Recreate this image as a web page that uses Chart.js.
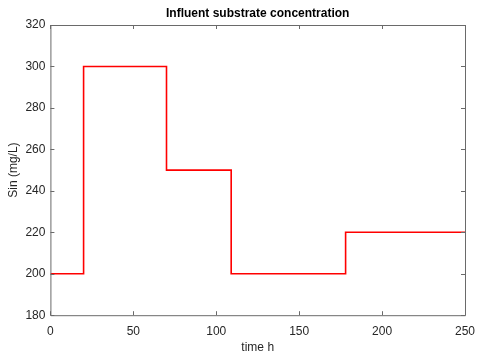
<!DOCTYPE html>
<html>
<head>
<meta charset="utf-8">
<script src="https://cdn.jsdelivr.net/npm/chart.js@4"></script>
<style>
  body { margin: 0; background: #fff; }
  #wrap { width: 480px; height: 361px; }
</style>
</head>
<body>
<div id="wrap"><canvas id="chart"></canvas></div>
<script>
// Data
const times = [0, 20, 70, 109, 178, 250];
const sin = [200, 300, 250, 200, 220, 220];
const xTicks = [0, 50, 100, 150, 200, 250];
const yTicks = [180, 200, 220, 240, 260, 280, 300, 320];
const titleText = "Influent substrate concentration";

const axisColor = "#262626";
const boxColor = "#6a6a6a";
const font = { family: "'Liberation Sans', Arial, sans-serif", size: 12 };

// Box around the axes with inward ticks and a title centred on the axes, MATLAB style
const boxPlugin = {
  id: "box",
  afterDraw(chart) {
    const { ctx, chartArea: a, scales } = chart;
    ctx.save();
    ctx.strokeStyle = boxColor;
    ctx.lineWidth = 1;
    ctx.beginPath();
    ctx.rect(a.left + 0.5, a.top + 0.5, a.right - a.left, a.bottom - a.top);
    xTicks.forEach((v) => {
      const x = Math.round(scales.x.getPixelForValue(v)) + 0.5;
      ctx.moveTo(x, a.bottom); ctx.lineTo(x, a.bottom - 4);
      ctx.moveTo(x, a.top); ctx.lineTo(x, a.top + 4);
    });
    yTicks.forEach((v) => {
      const y = Math.round(scales.y.getPixelForValue(v)) + 0.5;
      ctx.moveTo(a.left, y); ctx.lineTo(a.left + 4, y);
      ctx.moveTo(a.right, y); ctx.lineTo(a.right - 4, y);
    });
    ctx.stroke();

    ctx.fillStyle = "#000";
    ctx.font = "bold 12px 'Liberation Sans', Arial, sans-serif";
    ctx.textAlign = "center";
    ctx.textBaseline = "middle";
    ctx.fillText(titleText, (a.left + a.right) / 2, 14);
    ctx.restore();
  }
};

new Chart(document.getElementById("chart"), {
  type: "line",
  data: {
    datasets: [{
      data: times.map((t, i) => ({ x: t, y: sin[i] })),
      stepped: "before",
      borderColor: "#ff0000",
      borderWidth: 1.6,
      pointRadius: 0,
      fill: false
    }]
  },
  options: {
    responsive: true,
    maintainAspectRatio: false,
    animation: false,
    layout: { padding: { left: 6, right: 15, top: 25, bottom: 1 } },
    plugins: {
      legend: { display: false },
      tooltip: { enabled: false },
      title: { display: false }
    },
    scales: {
      x: {
        type: "linear",
        min: 0,
        max: 250,
        afterBuildTicks: (s) => { s.ticks = xTicks.map((v) => ({ value: v })); },
        afterFit: (s) => { s.paddingLeft = 0; s.paddingRight = 0; },
        grid: { display: false, drawTicks: false, tickLength: 0 },
        border: { display: false },
        ticks: { color: axisColor, font, padding: 9, maxRotation: 0 },
        title: { display: true, text: "time h", color: axisColor, font, padding: { top: -7, bottom: 5 } }
      },
      y: {
        min: 180,
        max: 320,
        afterBuildTicks: (s) => { s.ticks = yTicks.map((v) => ({ value: v })); },
        afterFit: (s) => { s.paddingTop = 0; s.paddingBottom = 0; },
        grid: { display: false, drawTicks: false, tickLength: 0 },
        border: { display: false },
        ticks: { color: axisColor, font, padding: 5 },
        title: { display: true, text: "Sin (mg/L)", color: axisColor, font, padding: { top: 0, bottom: 0 } }
      }
    }
  },
  plugins: [boxPlugin]
});
</script>
</body>
</html>
